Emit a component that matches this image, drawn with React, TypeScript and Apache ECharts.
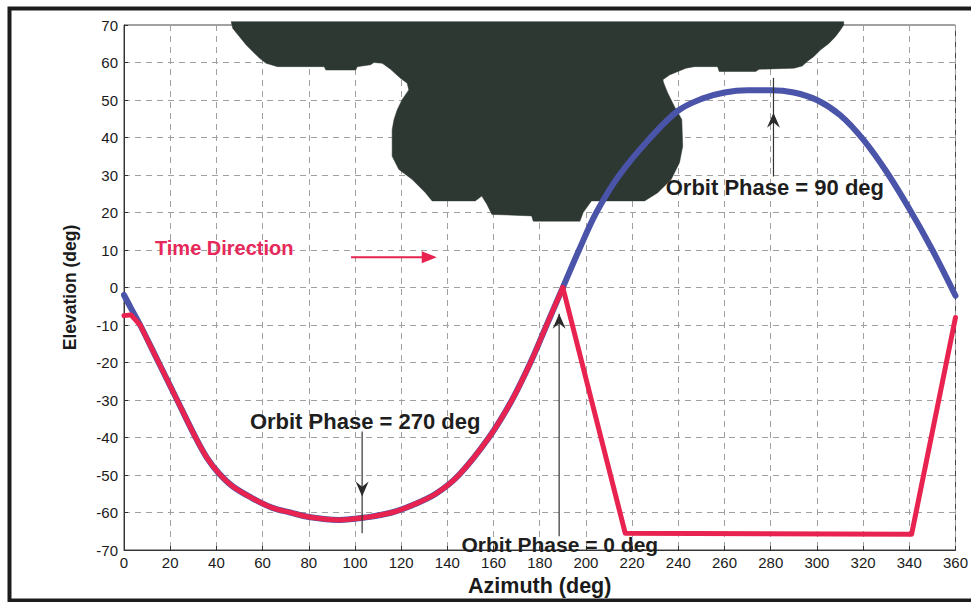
import React, { useEffect, useRef } from "react";
import * as echarts from "echarts";

// ---- axes ----
const AZ_MIN = 0;
const AZ_MAX = 360;
const AZ_STEP = 20;
const EL_MIN = -70;
const EL_MAX = 70;
const EL_STEP = 10;

// ---- shared lower branch (blue under red) ----
const lowerAz = [0, 3, 7, 15, 23, 31, 36, 41, 47, 55, 64, 72, 80, 93, 105, 116, 125, 135, 145, 158, 168, 176, 183, 190];
const lowerEl = [-2, -5.5, -10, -20, -30, -40, -45.5, -49.5, -53, -56, -58.7, -60, -61.2, -62, -61.3, -60, -58, -55, -50, -40, -30, -20, -10, 0];

// ---- blue upper branch ----
const upperAz = [197, 204.5, 214.5, 228, 240, 250, 260, 270, 280, 290, 300, 310, 320, 330, 340, 350, 360];
const upperEl = [10, 20, 30, 40, 47.2, 50.3, 52, 52.6, 52.6, 52, 50, 46, 39.5, 31, 21, 10, -2.2];

// ---- red track pieces ----
const redHookAz = [0, 3, 7];
const redHookEl = [-7.5, -7.3, -10];
const redTrackAz = [190, 217, 341, 360];
const redTrackEl = [0, -65.5, -65.8, -8];

// ---- obstruction mask outline ----
const maskAz = [
  46.4, 47.1, 50.0, 52.9, 55.8, 58.6, 61.5, 66.5, 86.7, 87.4, 100.3, 101.0, 106.8, 108.2, 111.8, 115.4,
  119.7, 122.6, 123.3, 120.4, 118.3, 116.9, 116.1, 116.1, 119.0, 124.8, 130.5, 133.4, 152.1, 154.9,
  157.1, 159.3, 176.5, 177.2, 197.4, 198.8, 202.4, 225.4, 231.1, 236.9, 240.5, 241.9, 241.5, 238.3,
  235.4, 233.7, 233.3, 236.2, 239.8, 243.3, 246.9, 257.0, 257.7, 273.5, 275.0, 290.1, 293.7, 295.8,
  298.7, 301.6, 305.2, 308.0, 310.2, 311.6, 311.6,
];
const maskEl = [
  70.9, 69.1, 66.9, 64.7, 62.9, 61.2, 59.8, 58.9, 58.9, 58.0, 58.0, 58.9, 59.4, 60.0, 59.8, 58.2,
  55.8, 54.5, 52.7, 50.1, 47.4, 44.8, 42.1, 35.0, 31.5, 28.8, 25.3, 23.1, 23.1, 24.4,
  22.2, 19.5, 19.1, 17.7, 17.7, 20.0, 23.1, 23.1, 25.3, 28.8, 33.3, 37.7, 44.8, 48.3,
  51.9, 54.5, 55.4, 56.7, 57.6, 58.5, 58.9, 58.9, 57.6, 57.6, 58.2, 58.5, 59.1, 60.3,
  61.6, 63.4, 65.1, 66.9, 68.7, 70.0, 70.9,
];

// ---- annotations ----
const annotationTexts = [
  { text: "Time Direction", az: 13.4, el: 10.5, kind: "time" },
  { text: "Orbit Phase = 90 deg", az: 281.8, el: 26.7, kind: "phase" },
  { text: "Orbit Phase = 270 deg", az: 104.4, el: -35.7, kind: "phase" },
  { text: "Orbit Phase = 0 deg", az: 188.7, el: -68.4, kind: "phase0" },
];
const phaseArrows = [
  { az: 281.2, fromEl: 55.9, toEl: 29.6, tipEl: 46.6, dir: "up" },
  { az: 103.1, fromEl: -38.4, toEl: -65.5, tipEl: -55.7, dir: "down" },
  { az: 188.4, fromEl: -66.3, toEl: -7, tipEl: -7, dir: "up" },
];
const timeArrow = { fromAz: 98.3, toAz: 135.4, el: 8.1 };

const BLUE = "#4a54a8";
const RED = "#e8234f";
const MASK = "#2e3832";
const FONT = 'Arial, "Liberation Sans", sans-serif';

const pairs = (a: number[], b: number[]) => a.map((v, i) => [v, b[i]]);

export default function App() {
  const ref = useRef<HTMLDivElement>(null);
  useEffect(() => {
    if (!ref.current) return;
    const chart = echarts.init(ref.current, null, { renderer: "svg" });
    const lineBase = {
      type: "line",
      showSymbol: false,
      symbol: "none",
      silent: true,
    };
    const option: any = {
      animation: false,
      backgroundColor: "#ffffff",
      grid: {
        left: 124,
        right: 12,
        top: 25,
        bottom: 50,
        show: true,
        borderColor: "#444",
        borderWidth: 1,
        backgroundColor: "transparent",
      },
      xAxis: {
        type: "value",
        min: AZ_MIN,
        max: AZ_MAX,
        interval: AZ_STEP,
        name: "Azimuth (deg)",
        nameLocation: "middle",
        nameGap: 25,
        nameTextStyle: { fontFamily: FONT, fontSize: 21.5, fontWeight: "bold", color: "#1a1a1a" },
        axisLine: { show: true, onZero: false, lineStyle: { color: "#333", width: 1 } },
        axisTick: { show: true, inside: true, length: 4, lineStyle: { color: "#333" } },
        axisLabel: { fontFamily: FONT, fontSize: 15, color: "#1a1a1a", margin: 5, showMinLabel: true, showMaxLabel: true },
        splitLine: { show: true, lineStyle: { color: "#a0a0a0", width: 1, type: [6, 5] } },
      },
      yAxis: {
        type: "value",
        min: EL_MIN,
        max: EL_MAX,
        interval: EL_STEP,
        name: "Elevation (deg)",
        nameLocation: "middle",
        nameGap: 45,
        nameRotate: 90,
        nameTextStyle: { fontFamily: FONT, fontSize: 17.5, fontWeight: "bold", color: "#1a1a1a" },
        axisLine: { show: true, onZero: false, lineStyle: { color: "#333", width: 1 } },
        axisTick: { show: true, inside: true, length: 4, lineStyle: { color: "#333" } },
        axisLabel: { fontFamily: FONT, fontSize: 15, color: "#1a1a1a", margin: 6, showMinLabel: true, showMaxLabel: true },
        splitLine: { show: true, lineStyle: { color: "#a0a0a0", width: 1, type: [6, 5] } },
      },
      series: [
        {
          type: "custom",
          coordinateSystem: "cartesian2d",
          clip: false,
          silent: true,
          z: 1,
          data: pairs(maskAz, maskEl),
          renderItem: (params: any, api: any) => {
            if (params.dataIndex !== 0) return null;
            const pts = maskAz.map((a, i) => api.coord([a, maskEl[i]]));
            return { type: "polygon", shape: { points: pts }, style: { fill: MASK, stroke: MASK, lineWidth: 0.5 } };
          },
        },
        {
          ...lineBase,
          z: 3,
          smooth: 0.35,
          data: pairs(lowerAz.concat(upperAz), lowerEl.concat(upperEl)),
          lineStyle: { color: BLUE, width: 6, cap: "round", join: "round" },
        },
        {
          ...lineBase,
          z: 4,
          data: pairs(redHookAz, redHookEl),
          lineStyle: { color: RED, width: 5, cap: "round", join: "round" },
        },
        {
          ...lineBase,
          z: 4,
          smooth: 0.35,
          data: pairs(lowerAz.slice(2), lowerEl.slice(2)),
          lineStyle: { color: RED, width: 5, cap: "round", join: "round" },
        },
        {
          ...lineBase,
          z: 4,
          data: pairs(redTrackAz, redTrackEl),
          lineStyle: { color: RED, width: 5, cap: "round", join: "round" },
        },
      ],
    };
    chart.setOption(option);

    const px = (az: number, el: number) => chart.convertToPixel({ gridIndex: 0 } as any, [az, el]) as number[];
    const graphics: any[] = [];

    annotationTexts.forEach((t) => {
      const p = px(t.az, t.el);
      const isTime = t.kind === "time";
      graphics.push({
        type: "text",
        x: p[0],
        y: p[1],
        z: 100,
        silent: true,
        style: {
          text: t.text,
          fill: isTime ? "#e6285a" : "#1e1e1e",
          fontFamily: FONT,
          fontSize: isTime ? 20 : t.kind === "phase0" ? 21 : 22,
          fontWeight: "bold",
          align: isTime ? "left" : "center",
          verticalAlign: "middle",
          textAlign: isTime ? "left" : "center",
          textVerticalAlign: "middle",
        },
      });
    });

    phaseArrows.forEach((a) => {
      const p1 = px(a.az, a.fromEl);
      const p2 = px(a.az, a.toEl);
      const tip = px(a.az, a.tipEl);
      graphics.push({
        type: "line",
        z: 100,
        silent: true,
        shape: { x1: p1[0], y1: p1[1], x2: p2[0], y2: p2[1] },
        style: { stroke: "#333", lineWidth: 1.2 },
      });
      const s = a.dir === "up" ? 1 : -1;
      const len = 15;
      const hw = 6.5;
      graphics.push({
        type: "polygon",
        z: 101,
        silent: true,
        shape: {
          points: [
            [tip[0], tip[1]],
            [tip[0] - hw, tip[1] + s * len],
            [tip[0], tip[1] + s * len * 0.65],
            [tip[0] + hw, tip[1] + s * len],
          ],
        },
        style: { fill: "#2a2a2a" },
      });
    });

    {
      const a = px(timeArrow.fromAz, timeArrow.el);
      const b = px(timeArrow.toAz, timeArrow.el);
      const len = 15;
      const hw = 6;
      graphics.push({
        type: "line",
        z: 100,
        silent: true,
        shape: { x1: a[0], y1: a[1], x2: b[0] - len + 1, y2: b[1] },
        style: { stroke: RED, lineWidth: 2 },
      });
      graphics.push({
        type: "polygon",
        z: 101,
        silent: true,
        shape: {
          points: [
            [b[0], b[1]],
            [b[0] - len, b[1] - hw],
            [b[0] - len, b[1] + hw],
          ],
        },
        style: { fill: RED },
      });
    }

    // scanned-page frame
    graphics.push({
      type: "rect",
      z: 200,
      silent: true,
      shape: { x: 9.5, y: 8.5, width: 1000, height: 592 },
      style: { fill: "none", stroke: "#1c1c1c", lineWidth: 4 },
    });

    chart.setOption({ graphic: graphics });
    return () => chart.dispose();
  }, []);

  return (
    <div
      ref={ref}
      style={{ position: "fixed", left: 0, top: 0, width: 971, height: 602, background: "#fff" }}
    />
  );
}
